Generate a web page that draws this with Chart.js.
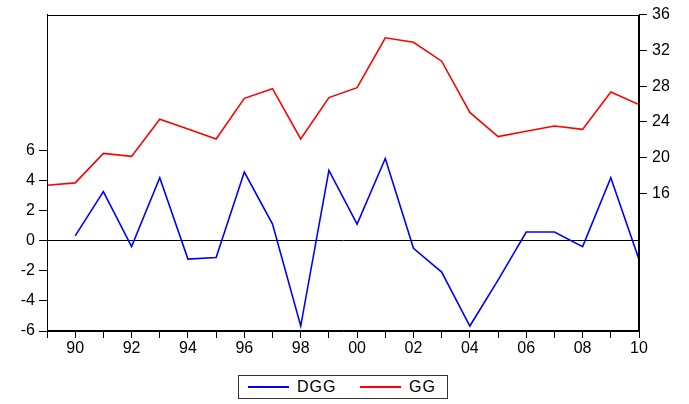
<!DOCTYPE html>
<html>
<head>
<meta charset="utf-8">
<script src="https://cdn.jsdelivr.net/npm/chart.js@4/dist/chart.umd.min.js"></script>
<style>
  html, body { margin: 0; padding: 0; background: #fff; }
  #wrap { position: relative; width: 689px; height: 404px; }
  #legend {
    position: absolute; left: 238px; top: 375px; width: 210px; height: 24px;
    border: 1px solid #333; box-sizing: border-box; background: #fff;
    font-family: "Liberation Sans", Arial, sans-serif; font-size: 16px; color: #000;
  }
  .item { position: absolute; top: 0; height: 22px; display: flex; align-items: center; }
  .swatch { display: inline-block; width: 41px; height: 1.6px; margin-right: 8px; }
  .lbl { letter-spacing: 1px; }
</style>
</head>
<body>
<div id="wrap">
  <canvas id="c" width="689" height="404"></canvas>
  <div id="legend"></div>
</div>
<script>
// Annual observations, 1989-2010
const years = [1989, 1990, 1991, 1992, 1993, 1994, 1995, 1996, 1997, 1998, 1999,
               2000, 2001, 2002, 2003, 2004, 2005, 2006, 2007, 2008, 2009, 2010];
// First difference (left axis)
const dgg = [null, 0.31, 3.25, -0.40, 4.17, -1.23, -1.12, 4.55, 1.10, -5.67, 4.66,
             1.10, 5.45, -0.51, -2.09, -5.67, -2.62, 0.57, 0.57, -0.40, 4.17, -1.25];
// Level series (right axis)
const gg = [16.93, 17.19, 20.48, 20.15, 24.31, 23.20, 22.10, 26.64, 27.72, 22.10, 26.72,
            27.83, 33.41, 32.90, 30.79, 25.06, 22.36, 22.95, 23.54, 23.17, 27.35, 25.94];
// Tick labels shown on each value axis
const leftTicks = [-6, -4, -2, 0, 2, 4, 6];
const rightTicks = [16, 20, 24, 28, 32, 36];

const seriesNames = ['DGG', 'GG'];
const seriesColors = ['#0000ff', '#ff0000'];

const tickFont = { family: '"Liberation Sans", Arial, sans-serif', size: 16 };

// Box around the plotting area
const framePlugin = {
  id: 'frame',
  afterDraw(chart) {
    const a = chart.chartArea, ctx = chart.ctx;
    ctx.save();
    ctx.strokeStyle = '#000';
    ctx.lineWidth = 1;
    ctx.strokeRect(Math.round(a.left) + 0.5, Math.round(a.top) + 0.5,
                   Math.round(a.right - a.left) - 1, Math.round(a.bottom - a.top) - 1);
    ctx.restore();
  }
};

new Chart(document.getElementById('c'), {
  type: 'line',
  data: {
    datasets: [
      {
        label: seriesNames[0],
        data: years.map((y, i) => ({ x: y, y: dgg[i] })),
        yAxisID: 'y',
        borderColor: seriesColors[0],
        borderWidth: 1.6,
        pointRadius: 0,
        tension: 0,
        spanGaps: false
      },
      {
        label: seriesNames[1],
        data: years.map((y, i) => ({ x: y, y: gg[i] })),
        yAxisID: 'y1',
        borderColor: seriesColors[1],
        borderWidth: 1.6,
        pointRadius: 0,
        tension: 0
      }
    ]
  },
  options: {
    responsive: false,
    animation: false,
    layout: { padding: { top: 12, left: 0, right: 0, bottom: 0 } },
    plugins: { legend: { display: false }, tooltip: { enabled: false } },
    scales: {
      x: {
        type: 'linear',
        min: years[0],
        max: years[years.length - 1],
        afterFit(s) { s.height = 73; },
        afterBuildTicks(s) { s.ticks = years.map(v => ({ value: v })); },
        ticks: {
          autoSkip: false, maxRotation: 0, minRotation: 0, padding: 1,
          color: '#000', font: tickFont,
          callback: v => (v % 2 === 0 ? String(v % 100).padStart(2, '0') : '')
        },
        grid: { drawOnChartArea: false, tickLength: 7, color: '#000', tickColor: '#000' },
        border: { display: true, color: '#000' }
      },
      y: {
        position: 'left',
        min: -6,
        max: 15,
        afterFit(s) { s.width = 47; },
        afterBuildTicks(s) { s.ticks = leftTicks.map(v => ({ value: v })); },
        ticks: { color: '#000', font: tickFont, padding: 4 },
        grid: {
          drawOnChartArea: true, tickLength: 8, tickColor: '#000', lineWidth: 1,
          color: ctx => (ctx.tick && ctx.tick.value === 0 ? '#000' : 'rgba(0,0,0,0)')
        },
        border: { display: true, color: '#000' }
      },
      y1: {
        position: 'right',
        min: 0.63,
        max: 36,
        afterFit(s) { s.width = 50; },
        afterBuildTicks(s) { s.ticks = rightTicks.map(v => ({ value: v })); },
        ticks: { color: '#000', font: tickFont, padding: 5 },
        grid: { drawOnChartArea: false, tickLength: 8, color: '#000', tickColor: '#000' },
        border: { display: true, color: '#000' }
      }
    }
  },
  plugins: [framePlugin]
});

// Legend below the plot
const legend = document.getElementById('legend');
const offsets = [9, 121];
seriesNames.forEach((name, i) => {
  const item = document.createElement('div');
  item.className = 'item';
  item.style.left = offsets[i] + 'px';
  const sw = document.createElement('span');
  sw.className = 'swatch';
  sw.style.backgroundColor = seriesColors[i];
  const tx = document.createElement('span');
  tx.className = 'lbl';
  tx.textContent = name;
  item.appendChild(sw);
  item.appendChild(tx);
  legend.appendChild(item);
});
</script>
</body>
</html>
